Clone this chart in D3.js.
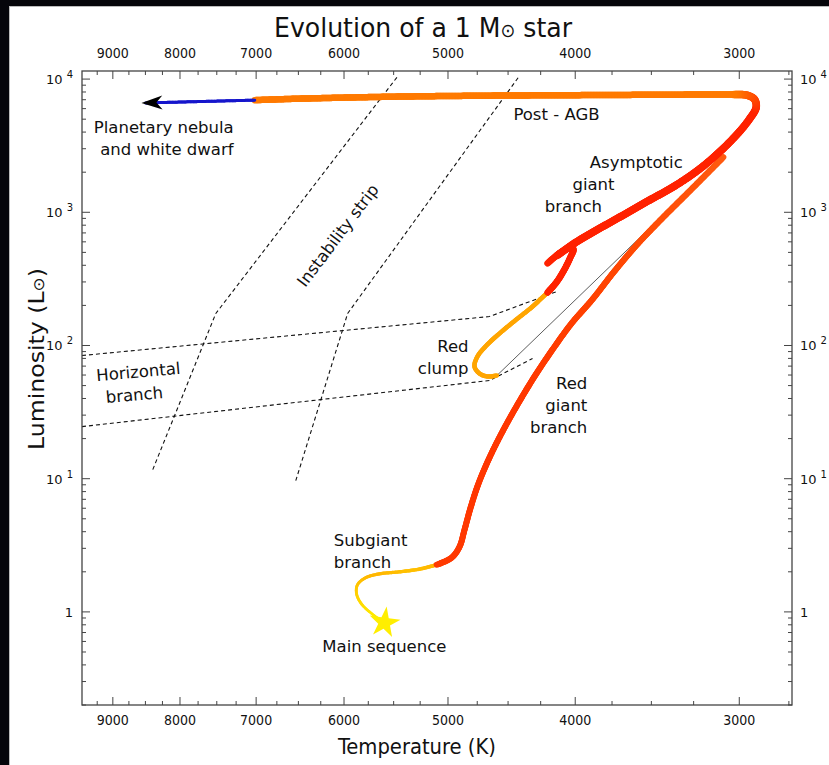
<!DOCTYPE html>
<html>
<head>
<meta charset="utf-8">
<script src="https://cdn.jsdelivr.net/npm/d3@7"></script>
<style>
  body { margin: 0; background: #05050a; }
  svg { display: block; }
  text { font-family: "DejaVu Sans", sans-serif; fill: #111; }
  .cond { font-family: "DejaVu Sans Condensed", "DejaVu Sans", sans-serif; }
</style>
</head>
<body>
<svg id="chart" width="829" height="765"></svg>
<script>
// evolutionary track of a 1 solar-mass star, temperature (K) / luminosity (Lsun)
const subgiantT = [5600, 5700, 5820, 5870, 5860, 5780, 5640, 5440, 5250, 5100];
const subgiantL = [0.84, 0.95, 1.15, 1.37, 1.6, 1.8, 1.93, 2.0, 2.1, 2.26];
const rgbT = [5100, 4969, 4900, 4857, 4806, 4740, 4649, 4544, 4426, 4296, 4162, 4027, 3881, 3735, 3588, 3440, 3274, 3085];
const rgbL = [2.26, 2.55, 3.08, 4.14, 6.05, 9.17, 14.4, 22.6, 36.0, 58.5, 93.3, 146, 222, 360, 574, 886, 1439, 2592];
const flashT = [3085, 4589];
const flashL = [2592, 59.5];
const clumpT = [4589, 4666, 4731, 4773, 4748, 4674, 4560, 4434, 4311, 4199];
const clumpL = [59.5, 58.5, 61.6, 69.5, 82.7, 100, 125, 157, 196, 250];
const hookT = [4199, 4134, 4076, 4034, 4013, 4041, 4112, 4199];
const hookL = [250, 298, 373, 459, 527, 536, 492, 414];
const agbT = [4127, 4006, 3867, 3702, 3524, 3362, 3218, 3107, 3011, 2947, 2912, 2922, 2963, 3026];
const agbL = [475, 585, 720, 917, 1210, 1568, 2105, 2826, 3856, 5003, 6156, 7079, 7586, 7646];
const postAgbT = [3026, 3218, 3834, 4567, 5442, 6485, 7017];
const postAgbL = [7646, 7650, 7590, 7520, 7390, 7130, 6950];
const nebulaT = [7017, 8500];
const nebulaL = [6950, 6620];
const mainSeqT = 5590, mainSeqL = 0.83;

// dashed guides: instability strip and horizontal branch
const stripLeftT = [8391, 7513, 5452];
const stripLeftL = [11.7, 174, 10720];
const stripRightT = [6530, 5962, 4412];
const stripRightL = [9.66, 174, 10540];
const hbUpperT = [9500, 4649, 4127];
const hbUpperL = [84.1, 165, 255];
const hbLowerT = [9500, 4649, 4311];
const hbLowerL = [24.6, 54.6, 79.8];

const tempTicks = [9000, 8000, 7000, 6000, 5000, 4000, 3000];
const lumTicks = [1, 10, 100, 1000, 10000];

const labels = [
  { text: "Planetary nebula", T: 8231, L: 3926, anchor: "middle" },
  { text: "and white dwarf", T: 8187, L: 2684, anchor: "middle" },
  { text: "Post - AGB", T: 4458, L: 4920, anchor: "start" },
  { text: "Asymptotic", T: 3594, L: 2142, anchor: "middle" },
  { text: "giant", T: 3874, L: 1463, anchor: "middle" },
  { text: "branch", T: 4013, L: 1000, anchor: "middle" },
  { text: "Red", T: 4823, L: 90.1, anchor: "end" },
  { text: "clump", T: 4823, L: 61.6, anchor: "end" },
  { text: "Red", T: 3916, L: 47.5, anchor: "end" },
  { text: "giant", T: 3916, L: 32.5, anchor: "end" },
  { text: "branch", T: 3916, L: 22.2, anchor: "end" },
  { text: "Horizontal", T: 8599, L: 57.5, anchor: "middle", rot: -5 },
  { text: "branch", T: 8660, L: 38.6, anchor: "middle", rot: -5 },
  { text: "Subgiant", T: 6108, L: 3.14, anchor: "start" },
  { text: "branch", T: 6108, L: 2.14, anchor: "start" },
  { text: "Main sequence", T: 5590, L: 0.5, anchor: "middle" },
  { text: "Instability strip", T: 6066, L: 671, anchor: "middle", rot: -53, mid: true },
];

const W = 829, H = 765;
const plot = { left: 82, right: 792, top: 71, bottom: 705 };

const svg = d3.select("#chart");
svg.append("rect").attr("width", W).attr("height", H).attr("fill", "#05050a");
svg.append("rect")
  .attr("x", 9.5).attr("y", 6.5).attr("width", W).attr("height", H)
  .attr("fill", "#fff").attr("stroke", "#bbb");

const x = d3.scaleLog().domain([9500, 2735]).range([plot.left, plot.right]);
const y = d3.scaleLog().domain([0.2, 11500]).range([plot.bottom, plot.top]);

const line = d3.line().curve(d3.curveCatmullRom.alpha(0.5));
const toPts = (Ts, Ls) => Ts.map((t, i) => [x(t), y(Ls[i])]);

svg.append("defs").append("clipPath").attr("id", "clip")
  .append("rect")
  .attr("x", plot.left).attr("y", plot.top)
  .attr("width", plot.right - plot.left).attr("height", plot.bottom - plot.top);

const gGuides = svg.append("g").attr("clip-path", "url(#clip)");
const gTrack = svg.append("g");
const gLabels = svg.append("g");

// dashed guide lines
[[stripLeftT, stripLeftL], [stripRightT, stripRightL], [hbUpperT, hbUpperL], [hbLowerT, hbLowerL]]
  .forEach(([Ts, Ls]) => {
    gGuides.append("path")
      .attr("d", d3.line()(toPts(Ts, Ls)))
      .attr("fill", "none")
      .attr("stroke", "#111")
      .attr("stroke-width", 1.1)
      .attr("stroke-dasharray", "4,3");
  });

// a path drawn as many short segments so colour and width can vary along it
function drawTrack(Ts, Ls, colorAt, widthAt) {
  const tmp = gTrack.append("path").attr("d", line(toPts(Ts, Ls))).attr("fill", "none");
  const len = tmp.node().getTotalLength();
  const n = Math.max(2, Math.ceil(len / 1.5));
  const samples = d3.range(n + 1).map((i) => {
    const p = tmp.node().getPointAtLength((len * i) / n);
    return { x: p.x, y: p.y, f: i / n };
  });
  tmp.remove();
  gTrack.append("g")
    .selectAll("line")
    .data(d3.pairs(samples))
    .join("line")
    .attr("x1", (d) => d[0].x).attr("y1", (d) => d[0].y)
    .attr("x2", (d) => d[1].x).attr("y2", (d) => d[1].y)
    .attr("stroke", (d) => colorAt(d[0].f))
    .attr("stroke-width", (d) => widthAt(d[0].f))
    .attr("stroke-linecap", "round");
}

// helium flash jump
gTrack.append("path")
  .attr("d", d3.line()(toPts(flashT, flashL)))
  .attr("stroke", "#333").attr("stroke-width", 0.8).attr("fill", "none");

drawTrack(subgiantT, subgiantL,
  d3.interpolateRgbBasis(["#fff000", "#ffdd00", "#ffaa00", "#ffc800", "#ffb400"]),
  (f) => 2.5 + f * 1.2);
drawTrack(rgbT, rgbL, d3.interpolateRgbBasis(["#ff3a00", "#ff3300", "#ff4400", "#ff5a10"]), () => 6);
drawTrack(clumpT, clumpL, () => "#ffa500", () => 4.5);
drawTrack(hookT, hookL, () => "#ff2200", () => 6.5);
drawTrack(agbT, agbL, (f) => (f < 0.88 ? "#ff2200" : d3.interpolateRgb("#ff2200", "#ff7a00")((f - 0.88) / 0.12)), () => 7.5);
drawTrack(postAgbT, postAgbL, () => "#ff7a00", () => 6.5);
drawTrack(nebulaT, nebulaL, () => "#1616cc", () => 3);

// arrow head of the white dwarf track
const tip = [x(nebulaT[1]) - 4, y(nebulaL[1])];
gTrack.append("path")
  .attr("d", "M0,0 L21,-7 L15,0 L21,7 Z")
  .attr("transform", `translate(${tip[0]},${tip[1]}) rotate(-1.5)`)
  .attr("fill", "#000");

// main sequence star
gTrack.append("path")
  .attr("d", d3.symbol(d3.symbolStar, 300)())
  .attr("transform", `translate(${x(mainSeqT)},${y(mainSeqL)}) rotate(8)`)
  .attr("fill", "#ffee00");

// labels
gLabels.selectAll("text")
  .data(labels)
  .join("text")
  .attr("transform", (d) => `translate(${x(d.T)},${y(d.L)}) rotate(${d.rot || 0})`)
  .attr("text-anchor", (d) => d.anchor)
  .attr("dy", (d) => (d.mid ? "0.35em" : 0))
  .attr("font-size", 16.5)
  .text((d) => d.text);

// frame and ticks
const gAxes = svg.append("g").attr("stroke", "#444");
gAxes.append("rect")
  .attr("x", plot.left).attr("y", plot.top)
  .attr("width", plot.right - plot.left).attr("height", plot.bottom - plot.top)
  .attr("fill", "none").attr("stroke-width", 1.3);

const tempMinor = d3.range(2750, 9500, 250).filter((t) => !tempTicks.includes(t));
const lumMinor = [];
[-1, 0, 1, 2, 3].forEach((k) => d3.range(2, 10).forEach((m) => {
  const v = m * Math.pow(10, k);
  if (v >= 0.2 && v <= 11500) lumMinor.push(v);
}));

function xTick(v, len) {
  const px = x(v);
  gAxes.append("line").attr("x1", px).attr("x2", px).attr("y1", plot.top).attr("y2", plot.top + len);
  gAxes.append("line").attr("x1", px).attr("x2", px).attr("y1", plot.bottom).attr("y2", plot.bottom - len);
}
function yTick(v, len) {
  const py = y(v);
  gAxes.append("line").attr("x1", plot.left).attr("x2", plot.left + len).attr("y1", py).attr("y2", py);
  gAxes.append("line").attr("x1", plot.right).attr("x2", plot.right - len).attr("y1", py).attr("y2", py);
}
tempTicks.forEach((v) => xTick(v, 8));
tempMinor.forEach((v) => xTick(v, 4));
lumTicks.forEach((v) => yTick(v, 8));
lumMinor.forEach((v) => yTick(v, 4));

// temperature tick labels, top and bottom
[plot.top - 13, plot.bottom + 20].forEach((py) => {
  svg.append("g").selectAll("text")
    .data(tempTicks)
    .join("text")
    .attr("class", "cond")
    .attr("x", (d) => x(d))
    .attr("y", py)
    .attr("text-anchor", "middle")
    .attr("font-size", 14)
    .text((d) => d);
});

// luminosity tick labels, left and right
function lumLabel(sel, d) {
  const k = Math.round(Math.log10(d));
  if (k === 0) {
    sel.text("1");
    return;
  }
  sel.text("10");
  sel.append("tspan").attr("dx", 4).attr("dy", -6).attr("font-size", 10).text(k);
}
[[plot.left - 9, "end"], [plot.right + 8, "start"]].forEach(([px, anchor]) => {
  svg.append("g").selectAll("text")
    .data(lumTicks)
    .join("text")
    .attr("x", px)
    .attr("y", (d) => y(d) + 5)
    .attr("text-anchor", anchor)
    .attr("font-size", 13)
    .each(function (d) { lumLabel(d3.select(this), d); });
});

// titles, with a smaller solar symbol
const title = svg.append("text")
  .attr("class", "cond")
  .attr("x", 423).attr("y", 37)
  .attr("text-anchor", "middle")
  .attr("font-size", 27)
  .attr("textLength", 298).attr("lengthAdjust", "spacingAndGlyphs");
title.append("tspan").text("Evolution of a 1 M");
title.append("tspan").attr("font-size", 19).text("\u2299");
title.append("tspan").text(" star");

svg.append("text")
  .attr("class", "cond")
  .attr("x", 417).attr("y", 754)
  .attr("text-anchor", "middle")
  .attr("font-size", 21)
  .attr("textLength", 158).attr("lengthAdjust", "spacingAndGlyphs")
  .text("Temperature (K)");

const ylab = svg.append("text")
  .attr("class", "cond")
  .attr("transform", "translate(44,359) rotate(-90)")
  .attr("text-anchor", "middle")
  .attr("font-size", 21)
  .attr("textLength", 182).attr("lengthAdjust", "spacingAndGlyphs");
ylab.append("tspan").text("Luminosity (L");
ylab.append("tspan").attr("font-size", 15).text("\u2299");
ylab.append("tspan").text(")");
</script>
</body>
</html>
